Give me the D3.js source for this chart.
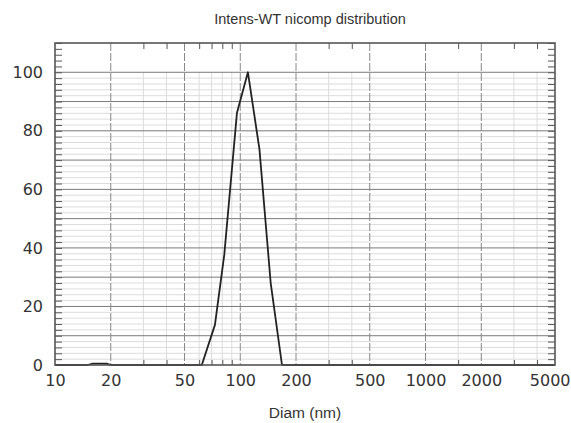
<!DOCTYPE html>
<html>
<head>
<meta charset="utf-8">
<script src="https://cdn.jsdelivr.net/npm/d3@7"></script>
<style>
  body { margin: 0; background: #fff; }
  text { font-family: "Liberation Sans", Arial, sans-serif; fill: #333; }
</style>
</head>
<body>
<div id="chart"></div>
<script>
// data
var diam   = [10, 15, 16, 19, 20, 62, 73, 82, 96, 110, 127, 146, 168, 5000];
var intens = [0, 0, 0.5, 0.5, 0, 0, 13.7, 37.7, 86.2, 100, 73.6, 28, 0, 0];

var xLabels = [10, 20, 50, 100, 200, 500, 1000, 2000, 5000];
var xMajorGrid = [20, 50, 100, 200, 500, 1000, 2000];
var xMinorGrid = [30, 40, 60, 70, 80, 90, 300, 400, 1500, 3000, 4000];
var yLabels = [0, 20, 40, 60, 80, 100];

var margin = { top: 43, right: 16, bottom: 58, left: 55 },
    width = 571 - margin.left - margin.right,
    height = 423 - margin.top - margin.bottom;

var svg = d3.select("#chart").append("svg")
    .attr("width", 571)
    .attr("height", 423);

var g = svg.append("g")
    .attr("transform", "translate(" + margin.left + "," + margin.top + ")");

var x = d3.scaleLog().domain([10, 5000]).range([0, width]);
var y = d3.scaleLinear().domain([0, 110]).range([height, 0]);

// minor horizontal grid (every 2)
var yMinor = d3.range(2, 100, 2).filter(function(d) { return d % 10 !== 0; });
g.selectAll(".hminor").data(yMinor).enter().append("line")
    .attr("x1", 0).attr("x2", width)
    .attr("y1", function(d) { return y(d); }).attr("y2", function(d) { return y(d); })
    .attr("stroke", "#dcdcdc").attr("stroke-width", 1);

// minor vertical grid, only up to 100
g.selectAll(".vminor").data(xMinorGrid).enter().append("line")
    .attr("x1", function(d) { return x(d); }).attr("x2", function(d) { return x(d); })
    .attr("y1", y(0)).attr("y2", y(100))
    .attr("stroke", "#dcdcdc").attr("stroke-width", 1);

// major horizontal grid
g.selectAll(".hmajor").data(d3.range(10, 101, 10)).enter().append("line")
    .attr("x1", 0).attr("x2", width)
    .attr("y1", function(d) { return y(d); }).attr("y2", function(d) { return y(d); })
    .attr("stroke", "#7a7a7a").attr("stroke-width", 1);

// major vertical dashed grid
g.selectAll(".vmajor").data(xMajorGrid).enter().append("line")
    .attr("x1", function(d) { return x(d); }).attr("x2", function(d) { return x(d); })
    .attr("y1", 0).attr("y2", height)
    .attr("stroke", "#888").attr("stroke-width", 1)
    .attr("stroke-dasharray", "8,2");

// inner tick marks
var yTicks = d3.range(0, 111, 2);
g.append("g").call(d3.axisRight(y).tickValues(yTicks).tickSize(7).tickFormat(""))
    .call(function(s) { s.select(".domain").remove(); s.selectAll("line").attr("stroke", "#555"); });
g.append("g").attr("transform", "translate(" + width + ",0)")
    .call(d3.axisLeft(y).tickValues(yTicks).tickSize(7).tickFormat(""))
    .call(function(s) { s.select(".domain").remove(); s.selectAll("line").attr("stroke", "#555"); });
g.append("g")
    .call(d3.axisBottom(x).tickValues(xMinorGrid).tickSize(6).tickFormat(""))
    .call(function(s) { s.select(".domain").remove(); s.selectAll("line").attr("stroke", "#555"); });
g.append("g").attr("transform", "translate(0," + height + ")")
    .call(d3.axisTop(x).tickValues(xMinorGrid).tickSize(5).tickFormat(""))
    .call(function(s) { s.select(".domain").remove(); s.selectAll("line").attr("stroke", "#555"); });

// data line
var line = d3.line()
    .x(function(d, i) { return x(diam[i]); })
    .y(function(d) { return y(d); });

g.append("path")
    .datum(intens)
    .attr("fill", "none")
    .attr("stroke", "#222")
    .attr("stroke-width", 1.8)
    .attr("stroke-linejoin", "round")
    .attr("d", line);

// frame
g.append("rect")
    .attr("width", width).attr("height", height)
    .attr("fill", "none").attr("stroke", "#555").attr("stroke-width", 1.6);

// tick labels
var xAxis = g.append("g").attr("transform", "translate(0," + height + ")")
    .call(d3.axisBottom(x).tickValues(xLabels).tickSize(0).tickPadding(10).tickFormat(d3.format("d")));
xAxis.select(".domain").remove();
xAxis.selectAll("text")
    .style("font-family", "'DejaVu Sans', sans-serif")
    .style("font-size", "16px").attr("fill", "#333")
    .filter(function(d) { return d === 5000; })
    .attr("text-anchor", "end").attr("dx", "15");

var yAxis = g.append("g")
    .call(d3.axisLeft(y).tickValues(yLabels).tickSize(0).tickPadding(12));
yAxis.select(".domain").remove();
yAxis.selectAll("text")
    .style("font-family", "'DejaVu Sans', sans-serif")
    .style("font-size", "16px").attr("fill", "#333");

// title and axis label
svg.append("text")
    .attr("x", margin.left + width / 2 + 5).attr("y", 24)
    .attr("text-anchor", "middle")
    .style("font-size", "14.5px")
    .text("Intens-WT nicomp distribution");

svg.append("text")
    .attr("x", margin.left + width / 2).attr("y", 418)
    .attr("text-anchor", "middle")
    .style("font-size", "15.5px")
    .text("Diam (nm)");
</script>
</body>
</html>
